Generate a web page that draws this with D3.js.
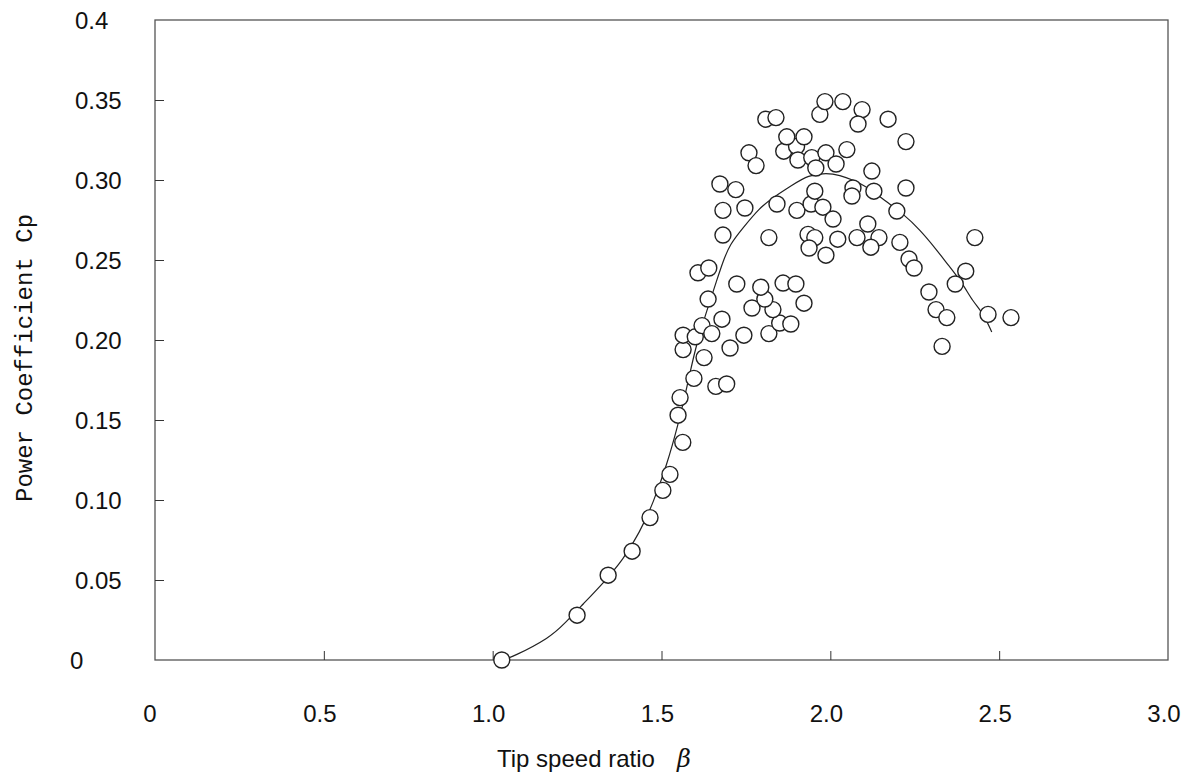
<!DOCTYPE html>
<html>
<head>
<meta charset="utf-8">
<script src="https://cdn.jsdelivr.net/npm/d3@7"></script>
<style>
    body { margin: 0; background: #fff; }
    .tick-label { font-family: "Liberation Sans", Arial, sans-serif; font-size: 24px; fill: #111; }
</style>
</head>
<body>
<div id="chart"></div>
<script>
'use strict';

// measured points
var beta = [1.027, 1.25, 1.342, 1.413, 1.466, 1.504, 1.525, 1.563, 1.549, 1.555,
    1.596, 1.661, 1.693, 1.626, 1.564, 1.703, 1.564, 1.60, 1.62, 1.649,
    1.679, 1.744, 1.818, 1.85, 1.883, 1.768, 1.83, 1.806, 1.794, 1.723,
    1.86, 1.898, 1.922, 1.638, 1.608, 1.64, 1.682, 1.818, 1.934, 1.954,
    2.022, 1.937, 1.987, 1.682, 1.747, 1.842, 1.901, 1.943, 1.978, 2.008,
    1.954, 1.673, 1.72, 1.759, 1.78, 1.862, 1.9, 1.904, 1.945, 1.987,
    2.049, 1.957, 2.017, 1.871, 1.922, 1.809, 1.839, 1.969, 1.984, 2.037,
    2.094, 2.082, 2.171, 2.224, 2.067, 2.064, 2.123, 2.129, 2.224, 2.197,
    2.111, 2.079, 2.144, 2.12, 2.206, 2.233, 2.248, 2.428, 2.401, 2.37,
    2.292, 2.313, 2.345, 2.467, 2.535, 2.331];
var cp = [0.000, 0.028, 0.053, 0.068, 0.089, 0.106, 0.116, 0.136, 0.153, 0.164,
    0.176, 0.171, 0.1725, 0.189, 0.194, 0.195, 0.203, 0.202, 0.209, 0.204,
    0.213, 0.203, 0.204, 0.2106, 0.210, 0.220, 0.219, 0.2256, 0.233, 0.235,
    0.2356, 0.235, 0.223, 0.2256, 0.242, 0.245, 0.2656, 0.264, 0.266, 0.264,
    0.263, 0.2575, 0.253, 0.281, 0.2825, 0.285, 0.281, 0.285, 0.283, 0.2756,
    0.293, 0.2975, 0.294, 0.317, 0.309, 0.318, 0.321, 0.3125, 0.314, 0.317,
    0.319, 0.3075, 0.310, 0.327, 0.327, 0.338, 0.339, 0.341, 0.349, 0.349,
    0.344, 0.335, 0.338, 0.324, 0.295, 0.290, 0.3056, 0.293, 0.295, 0.2806,
    0.2725, 0.264, 0.264, 0.258, 0.261, 0.2506, 0.245, 0.264, 0.243, 0.235,
    0.230, 0.219, 0.214, 0.216, 0.214, 0.196];

// fitted curve
var fitBeta = [1.03, 1.06, 1.17, 1.214, 1.268, 1.327, 1.386, 1.436, 1.475, 1.516,
    1.549, 1.575, 1.60, 1.635, 1.664, 1.682, 1.703, 1.741, 1.79, 1.83,
    1.889, 1.934, 1.99, 2.028, 2.067, 2.108, 2.168, 2.215, 2.265, 2.316,
    2.345, 2.39, 2.422, 2.452, 2.478];
var fitCp = [0.0, 0.002, 0.014, 0.023, 0.035, 0.048, 0.0625, 0.08, 0.098, 0.122,
    0.147, 0.17, 0.195, 0.219, 0.2375, 0.249, 0.26, 0.27, 0.2825, 0.289,
    0.297, 0.303, 0.3044, 0.303, 0.30, 0.296, 0.286, 0.279, 0.269, 0.256,
    0.248, 0.236, 0.224, 0.217, 0.205];

var xTicks = [0, 0.5, 1.0, 1.5, 2.0, 2.5, 3.0];
var xTickLabels = ['0', '0.5', '1.0', '1.5', '2.0', '2.5', '3.0'];
var yTicks = [0, 0.05, 0.10, 0.15, 0.20, 0.25, 0.30, 0.35, 0.4];
var yTickLabels = ['0', '0.05', '0.10', '0.15', '0.20', '0.25', '0.30', '0.35', '0.4'];

var width = 1192,
    height = 776,
    plot = {left: 155, right: 1168, top: 20, bottom: 660};

var x = d3.scaleLinear().domain([0, 3]).range([plot.left, plot.right]),
    y = d3.scaleLinear().domain([0, 0.4]).range([plot.bottom, plot.top]);

var svg = d3.select('#chart').append('svg')
    .attr('width', width)
    .attr('height', height);

//Frame
svg.append('rect')
    .attr('x', plot.left)
    .attr('y', plot.top)
    .attr('width', plot.right - plot.left)
    .attr('height', plot.bottom - plot.top)
    .attr('fill', 'none')
    .attr('stroke', '#555')
    .attr('stroke-width', 1.3);

//Inward ticks, no labels from the axis itself
svg.append('g')
    .attr('transform', 'translate(0,' + plot.bottom + ')')
    .call(d3.axisTop(x).tickValues(xTicks.slice(1, -1)).tickSize(9).tickFormat(''))
    .call(function(g) { g.select('.domain').remove(); })
    .selectAll('line').attr('stroke', '#333');

svg.append('g')
    .attr('transform', 'translate(' + plot.left + ',0)')
    .call(d3.axisRight(y).tickValues(yTicks.slice(1, -1)).tickSize(9).tickFormat(''))
    .call(function(g) { g.select('.domain').remove(); })
    .selectAll('line').attr('stroke', '#333');

//Tick labels
svg.append('g')
    .selectAll('text')
    .data(xTicks)
    .enter().append('text')
    .attr('class', 'tick-label')
    .attr('x', function(d) { return d === 0 ? x(d) - 5 : x(d) - 4; })
    .attr('y', 722)
    .attr('text-anchor', 'middle')
    .text(function(d, i) { return xTickLabels[i]; });

svg.append('g')
    .selectAll('text')
    .data(yTicks)
    .enter().append('text')
    .attr('class', 'tick-label')
    .attr('x', function(d) { return d === 0 ? 70 : 75; })
    .attr('y', function(d) { return y(d) + 9; })
    .attr('text-anchor', 'start')
    .text(function(d, i) { return yTickLabels[i]; });

//Axis titles
svg.append('text')
    .attr('transform', 'translate(32,358) rotate(-90)')
    .attr('text-anchor', 'middle')
    .style('font-family', '"Liberation Mono", "DejaVu Sans Mono", monospace')
    .style('font-size', '24px')
    .style('fill', '#111')
    .text('Power Coefficient Cp');

var xTitle = svg.append('text')
    .attr('x', 497)
    .attr('y', 767)
    .style('font-family', '"Liberation Sans", Arial, sans-serif')
    .style('font-size', '24px')
    .style('fill', '#111');
xTitle.append('tspan').text('Tip speed ratio');
xTitle.append('tspan')
    .attr('dx', 22)
    .style('font-family', '"DejaVu Serif", serif')
    .style('font-style', 'italic')
    .text('β');

//Fitted curve
var line = d3.line()
    .x(function(d) { return x(d[0]); })
    .y(function(d) { return y(d[1]); })
    .curve(d3.curveBasis);

svg.append('path')
    .datum(fitBeta.map(function(b, i) { return [b, fitCp[i]]; }))
    .attr('d', line)
    .attr('fill', 'none')
    .attr('stroke', '#222')
    .attr('stroke-width', 1.2);

//Measured points
svg.append('g')
    .selectAll('circle')
    .data(beta.map(function(b, i) { return [b, cp[i]]; }))
    .enter().append('circle')
    .attr('cx', function(d) { return x(d[0]); })
    .attr('cy', function(d) { return y(d[1]); })
    .attr('r', 8)
    .attr('fill', '#fff')
    .attr('stroke', '#222')
    .attr('stroke-width', 1.4);
</script>
</body>
</html>
